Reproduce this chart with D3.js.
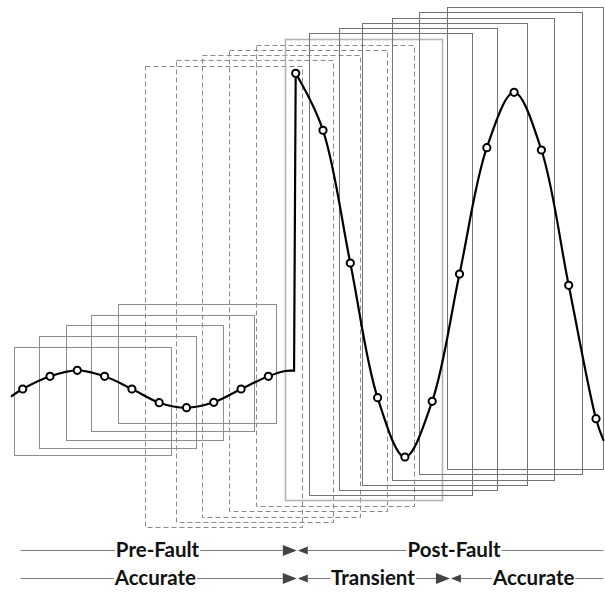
<!DOCTYPE html>
<html>
<head>
<meta charset="utf-8">
<script src="https://cdn.jsdelivr.net/npm/d3@7"></script>
<style>
  html, body { margin: 0; padding: 0; background: #fff; }
  svg { display: block; }
  .lbl { font-family: Lato, "Open Sans", sans-serif; font-weight: 700; font-size: 20.5px; fill: #111; }
</style>
</head>
<body>
<svg id="chart" width="605" height="592"></svg>
<script>
// Sampled waveform: pre-fault (small sine) and post-fault (large, offset) samples
const preIdx = [0, 1, 2, 3, 4, 5, 6, 7, 8, 9];
const preValues = [0, 0.127, 0.187, 0.127, 0, -0.137, -0.187, -0.133, 0, 0.127];
const postIdx = [10, 11, 12, 13, 14, 15, 16, 17, 18, 19, 20, 21];
const postValues = [3.157, 2.587, 1.26, -0.087, -0.68, -0.123, 1.15, 2.413, 2.967, 2.39, 1.037, -0.297];

// Continuous trace ends (sample-index, value)
const traceHeadIdx = [-0.4];
const traceHeadValues = [-0.07];
const preTailIdx = [9.61, 9.94];
const preTailValues = [0.18, 0.183];
const traceTailIdx = [21.27];
const traceTailValues = [-0.51];

// Sliding data windows (start/end in sample index, top/bottom in value units)
const winStart  = [-0.32, 0.6, 1.58, 2.49, 3.5, 4.47, 5.6, 6.57, 7.56, 8.56, 9.62, 10.5, 11.6, 12.44, 13.54, 14.52, 15.54];
const winEnd    = [5.43, 6.35, 7.34, 8.46, 9.27, 10.24, 11.36, 12.36, 13.33, 14.32, 15.36, 16.47, 17.36, 18.49, 19.47, 20.5, 21.27];
const winTop    = [0.423, 0.527, 0.64, 0.74, 0.847, 3.233, 3.287, 3.34, 3.393, 3.443, 3.5, 3.557, 3.607, 3.657, 3.71, 3.767, 3.823];
const winBottom = [-0.66, -0.587, -0.507, -0.423, -0.343, -1.38, -1.33, -1.277, -1.223, -1.17, -1.11, -1.063, -1.01, -0.96, -0.907, -0.85, -0.8];
const winKind   = ["pre", "pre", "pre", "pre", "pre", "mixed", "mixed", "mixed", "mixed", "mixed",
                   "postFirst", "post", "post", "post", "post", "post", "post"];

// Timeline annotations
const row1Labels = ["Pre-Fault", "Post-Fault"];
const row1LabelIdx = [4.94, 15.8];
const row1Bounds = [10.04];
const row2Labels = ["Accurate", "Transient", "Accurate"];
const row2LabelIdx = [4.86, 12.83, 18.72];
const row2Bounds = [10.04, 15.65];
const timelineExtent = [-0.075, 21.27];

const svg = d3.select("#chart");
const x = d3.scaleLinear().domain([0, 21]).range([22.7, 596]);
const y = d3.scaleLinear().domain([-1, 3]).range([489, 89]);
const px = v => Math.round(v) + 0.5;

// Windows
const winStyle = {
  pre:       { stroke: "#8e8e8e", width: 1,   dash: null },
  mixed:     { stroke: "#8a8a8a", width: 1,   dash: "5,3" },
  postFirst: { stroke: "#b4b4b4", width: 1.6, dash: null },
  post:      { stroke: "#747474", width: 1,   dash: null }
};
const windows = winStart.map((s, k) => ({ s, e: winEnd[k], t: winTop[k], b: winBottom[k], kind: winKind[k] }));
svg.append("g").selectAll("rect").data(windows).join("rect")
  .attr("x", d => px(x(d.s)))
  .attr("y", d => px(y(d.t)))
  .attr("width", d => Math.round(x(d.e)) - Math.round(x(d.s)))
  .attr("height", d => Math.round(y(d.b)) - Math.round(y(d.t)))
  .attr("fill", "none")
  .attr("stroke", d => winStyle[d.kind].stroke)
  .attr("stroke-width", d => winStyle[d.kind].width)
  .attr("stroke-dasharray", d => winStyle[d.kind].dash);

// Waveform trace
const toPts = (ix, vs) => ix.map((i, k) => [i, vs[k]]);
const preTrace = toPts(traceHeadIdx, traceHeadValues)
  .concat(toPts(preIdx, preValues), toPts(preTailIdx, preTailValues));
const postTrace = toPts(postIdx, postValues).concat(toPts(traceTailIdx, traceTailValues));
const jump = [toPts(preTailIdx, preTailValues).slice(-1)[0], [postIdx[0], postValues[0]]];

const smooth = d3.line().x(d => x(d[0])).y(d => y(d[1])).curve(d3.curveCatmullRom.alpha(0.5));
const straight = d3.line().x(d => x(d[0])).y(d => y(d[1]));
const trace = svg.append("g").attr("fill", "none").attr("stroke", "#000").attr("stroke-width", 2.2)
  .attr("stroke-linejoin", "round").attr("stroke-linecap", "round");
trace.append("path").attr("d", smooth(preTrace));
trace.append("path").attr("d", straight(jump));
trace.append("path").attr("d", smooth(postTrace));

// Sample markers
const samples = toPts(preIdx, preValues).concat(toPts(postIdx, postValues));
svg.append("g").selectAll("circle").data(samples).join("circle")
  .attr("cx", d => x(d[0])).attr("cy", d => y(d[1])).attr("r", 3.6)
  .attr("fill", "#fff").attr("stroke", "#000").attr("stroke-width", 2);

// Timeline rows
function timelineRow(yLine, labels, labelIdx, bounds) {
  const g = svg.append("g");
  const texts = labels.map((t, k) => {
    const el = g.append("text").attr("class", "lbl").attr("x", x(labelIdx[k])).attr("y", yLine + 7)
      .attr("text-anchor", "middle").text(t);
    const w = el.node().getComputedTextLength();
    return { a: x(labelIdx[k]) - w / 2 - 1, b: x(labelIdx[k]) + w / 2 + 1 };
  });
  // line runs between the extent ends, interrupted by labels and boundary arrows
  const gaps = texts.map(t => [t.a, t.b]);
  bounds.forEach(bx => {
    const c = x(bx);
    gaps.push([c - 14, c + 11]);
    g.append("path").attr("d", `M${c - 14},${yLine - 5}L${c},${yLine + 0.5}L${c - 14},${yLine + 6}Z`).attr("fill", "#444");
    g.append("path").attr("d", `M${c + 11},${yLine - 3.5}L${c + 1},${yLine + 0.5}L${c + 11},${yLine + 4.5}Z`).attr("fill", "#444");
  });
  gaps.sort((p, q) => p[0] - q[0]);
  let cur = x(timelineExtent[0]);
  const segs = [];
  gaps.forEach(gp => { if (gp[0] > cur) segs.push([cur, gp[0]]); cur = Math.max(cur, gp[1]); });
  segs.push([cur, x(timelineExtent[1])]);
  g.selectAll("line").data(segs).join("line")
    .attr("x1", d => d[0]).attr("x2", d => d[1])
    .attr("y1", yLine + 0.5).attr("y2", yLine + 0.5)
    .attr("stroke", "#7a7a7a").attr("stroke-width", 1);
}
timelineRow(550, row1Labels, row1LabelIdx, row1Bounds);
timelineRow(578, row2Labels, row2LabelIdx, row2Bounds);
</script>
</body>
</html>
